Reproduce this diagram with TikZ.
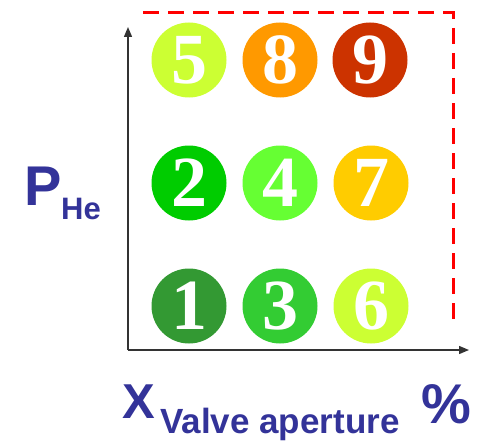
\documentclass[tikz,border=0pt]{standalone}
\usepackage{fontspec}
\setmainfont{Liberation Serif}
\newfontfamily\labfont{Liberation Sans}
\usetikzlibrary{arrows.meta}
\definecolor{lblue}{HTML}{333399}
\definecolor{cA}{HTML}{339933}
\definecolor{cB}{HTML}{00CC00}
\definecolor{cC}{HTML}{33CC33}
\definecolor{cD}{HTML}{66FF33}
\definecolor{cE}{HTML}{CCFF33}
\definecolor{cF}{HTML}{FFCC00}
\definecolor{cG}{HTML}{FF9900}
\definecolor{cH}{HTML}{CC3300}
\begin{document}
\begin{tikzpicture}[x=1pt,y=-1pt,
  ball/.style={circle,minimum size=75pt,inner sep=0pt,text=white,
    font=\fontsize{72}{72}\selectfont\bfseries},
  axis/.style={line width=1.4pt,draw=black!80,-{Triangle[length=10pt,width=8pt]}},
  lab/.style={text=lblue,inner sep=0pt,anchor=base west,font=\labfont\bfseries}]
\useasboundingbox (0,0) rectangle (486,441);
\coordinate (o) at (128,350);
\coordinate (ytop) at (128,27);
\coordinate (xend) at (469,350);
\coordinate (r1) at (143,13);
\coordinate (r2) at (453,13);
\coordinate (r3) at (453,326);
\draw[red,line width=3pt,dash pattern=on 16pt off 9pt] (r1) -- (r2) -- (r3);
\draw[axis] (o) -- (ytop);
\draw[axis] (o) -- (xend);
\node[ball,fill=cE] (n5) at (189,60) {5};
\node[ball,fill=cG] (n8) at (280,60) {8};
\node[ball,fill=cH] (n9) at (370,60) {9};
\node[ball,fill=cB] (n2) at (189,183) {2};
\node[ball,fill=cD] (n4) at (280,183) {4};
\node[ball,fill=cF] (n7) at (371,183) {7};
\node[ball,fill=cA] (n1) at (189,306) {1};
\node[ball,fill=cC] (n3) at (280,306) {3};
\node[ball,fill=cE] (n6) at (371,306) {6};
\node[lab,font=\labfont\bfseries\fontsize{56}{56}\selectfont] (p) at (24,205) {P};
\node[lab,font=\labfont\bfseries\fontsize{31}{31}\selectfont] (he) at (61,219) {He};
\node[lab,font=\labfont\bfseries\fontsize{49}{49}\selectfont] (xl) at (122,418) {X};
\node[lab,font=\labfont\bfseries\fontsize{35}{35}\selectfont] (va) at (160,433) {Valve aperture};
\node[lab,font=\labfont\bfseries\fontsize{56}{56}\selectfont] (pc) at (421,423) {\%};
\end{tikzpicture}
\end{document}
